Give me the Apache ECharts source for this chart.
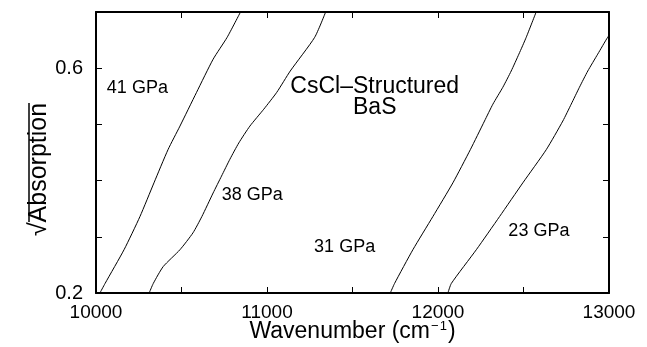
<!DOCTYPE html>
<html>
<head>
<meta charset="utf-8">
<script src="https://cdn.jsdelivr.net/npm/echarts@6/dist/echarts.min.js"></script>
<style>
html,body{margin:0;padding:0;background:#fff;}
#c{width:647px;height:347px;}
</style>
</head>
<body>
<div id="c"></div>
<script>
// Data (wavenumber in cm^-1, sqrt(absorption))
var x41 = [10023, 10053, 10164, 10257, 10339, 10421, 10491, 10588, 10685, 10767, 10845];
var y41 = [0.200, 0.217, 0.277, 0.336, 0.396, 0.455, 0.497, 0.557, 0.616, 0.655, 0.700];

var x38 = [10311, 10335, 10393, 10491, 10567, 10619, 10685, 10734, 10783, 10835, 10900, 10981, 11057, 11136, 11279, 11343];
var y38 = [0.200, 0.217, 0.247, 0.277, 0.307, 0.336, 0.378, 0.408, 0.438, 0.467, 0.497, 0.527, 0.557, 0.595, 0.655, 0.700];

var x31 = [11721, 11746, 11853, 11970, 12087, 12189, 12272, 12321, 12379, 12428, 12473, 12516, 12574];
var y31 = [0.200, 0.217, 0.277, 0.336, 0.396, 0.455, 0.506, 0.536, 0.566, 0.595, 0.625, 0.655, 0.700];

var x23 = [12058, 12078, 12224, 12360, 12496, 12633, 12730, 12779, 12827, 12876, 12934, 12992, 13000];
var y23 = [0.200, 0.217, 0.277, 0.336, 0.396, 0.455, 0.506, 0.536, 0.566, 0.595, 0.625, 0.655, 0.658];

var seriesNames = ['41 GPa', '38 GPa', '31 GPa', '23 GPa'];
var labelX = [10242, 10914, 11454, 12590];
var labelY = [0.565, 0.375, 0.282, 0.310];

var titleText = 'CsCl\u2013Structured\nBaS';
var titleX = 11630;
var titleY = 0.549;

var xTickLabels = [10000, 11000, 12000, 13000];
var yTickLabels = [0.2, 0.6];

function zip(xs, ys) { return xs.map(function (v, i) { return [v, ys[i]]; }); }

var FONT = 'Liberation Sans, Arial, Helvetica, sans-serif';

var lineSeries = [[x41, y41], [x38, y38], [x31, y31], [x23, y23]].map(function (d, i) {
  return {
    name: seriesNames[i],
    type: 'line',
    data: zip(d[0], d[1]),
    showSymbol: false,
    smooth: 0.2,
    lineStyle: { color: '#000', width: 1 },
    silent: true,
    z: 3
  };
});

var labelSeries = {
  type: 'scatter',
  symbolSize: 0,
  silent: true,
  itemStyle: { opacity: 1 },
  data: seriesNames.map(function (n, i) { return { name: n, value: [labelX[i], labelY[i]] }; }),
  label: {
    show: true, position: 'inside', formatter: '{b}', opacity: 1,
    color: '#000', fontSize: 18, fontFamily: FONT, textBorderWidth: 0
  }
};

var titleSeries = {
  type: 'scatter',
  symbolSize: 0,
  silent: true,
  itemStyle: { opacity: 1 },
  data: [{ name: titleText, value: [titleX, titleY] }],
  label: {
    show: true, position: 'inside', formatter: '{b}', align: 'center', opacity: 1,
    color: '#000', fontSize: 23, lineHeight: 21, fontFamily: FONT, textBorderWidth: 0
  }
};

var chart = echarts.init(document.getElementById('c'), null, { renderer: 'canvas' });

var axisLineStyle = { show: true, lineStyle: { color: '#000', width: 2 } };
var tickStyle = { show: true, inside: true, length: 6, lineStyle: { color: '#000', width: 1 } };

chart.setOption({
  animation: false,
  backgroundColor: '#fff',
  grid: { left: 96, right: 38, top: 12, bottom: 54, containLabel: false, outerBoundsMode: 'none' },
  xAxis: [{
    type: 'value', min: 10000, max: 13000, interval: 500, position: 'bottom',
    axisLine: axisLineStyle, axisTick: tickStyle, splitLine: { show: false },
    axisLabel: {
      color: '#000', fontSize: 19, fontFamily: FONT, margin: 10,
      formatter: function (v) { return xTickLabels.indexOf(v) >= 0 ? String(v) : ''; }
    },
    name: 'Wavenumber (cm{sup|\u2212\u200a1})',
    nameLocation: 'middle', nameGap: 27, nameMoveOverlap: false,
    nameTextStyle: {
      color: '#000', fontSize: 23, fontFamily: FONT,
      rich: { sup: { fontSize: 13, fontFamily: FONT, color: '#000', verticalAlign: 'top', padding: [0, 1, 10, 1] } }
    }
  }, {
    type: 'value', min: 10000, max: 13000, interval: 500, position: 'top',
    axisLine: axisLineStyle, axisTick: tickStyle, splitLine: { show: false },
    axisLabel: { show: false }
  }],
  yAxis: [{
    type: 'value', min: 0.2, max: 0.7, interval: 0.1, position: 'left',
    axisLine: axisLineStyle, axisTick: tickStyle, splitLine: { show: false },
    axisLabel: {
      color: '#000', fontSize: 20, fontFamily: FONT, margin: 13,
      formatter: function (v) {
        var r = Math.round(v * 10) / 10;
        return yTickLabels.indexOf(r) >= 0 ? r.toFixed(1) : '';
      }
    },
    name: '\u221AAbsorption',
    nameLocation: 'middle', nameGap: 44, nameMoveOverlap: false,
    nameTextStyle: { color: '#000', fontSize: 25, fontFamily: FONT, padding: [0, 34, 0, 0] }
  }, {
    type: 'value', min: 0.2, max: 0.7, interval: 0.1, position: 'right',
    axisLine: axisLineStyle, axisTick: tickStyle, splitLine: { show: false },
    axisLabel: { show: false }
  }],
  graphic: [{
    type: 'line', silent: true,
    shape: { x1: 29, y1: 103, x2: 29, y2: 222 },
    style: { stroke: '#000', lineWidth: 1.5 }
  }],
  series: lineSeries.concat([labelSeries, titleSeries])
});
</script>
</body>
</html>
